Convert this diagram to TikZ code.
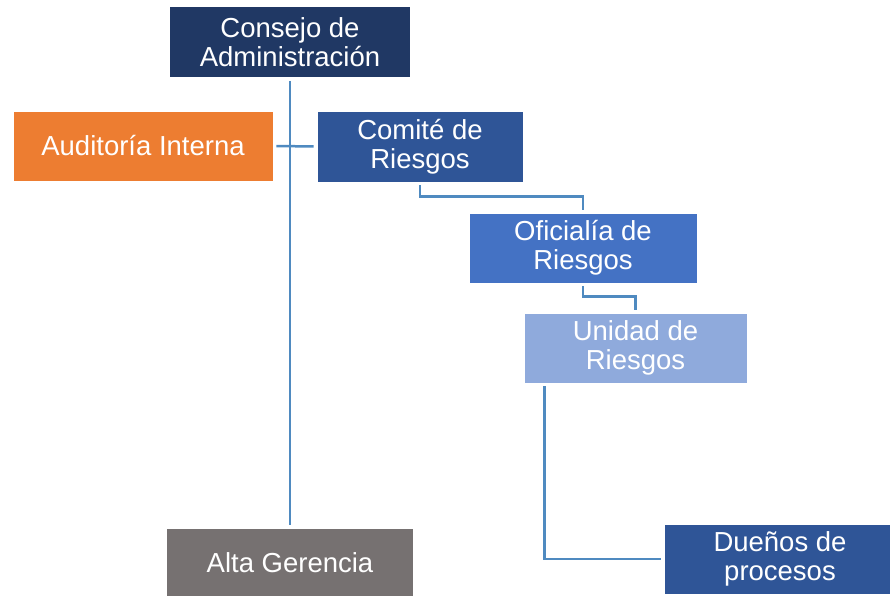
\documentclass[tikz,border=0pt]{standalone}
\usepackage{fontspec}
\setmainfont{Liberation Sans}
\definecolor{cnavy}{HTML}{203864}
\definecolor{cblue}{HTML}{2F5597}
\definecolor{cmid}{HTML}{4472C4}
\definecolor{clight}{HTML}{8FAADC}
\definecolor{cgray}{HTML}{767171}
\definecolor{corange}{HTML}{ED7D31}
\definecolor{cline}{RGB}{79,138,192}
\begin{document}
\begin{tikzpicture}[x=1pt,y=-1pt,
  box/.style={rectangle,draw=white,line width=0.8pt,text=white,align=center,
    inner sep=0pt,font=\fontsize{27.5}{29}\selectfont},
  conn/.style={draw=cline,line width=2.5pt,shorten <=3pt,shorten >=3pt}]
\useasboundingbox (0,0) rectangle (890,596);
\node[box,fill=cnavy,minimum width=241pt,minimum height=71pt] (consejo) at (290,42) {Consejo de\\Administración};
\node[box,fill=corange,minimum width=260pt,minimum height=70pt] (audit) at (143,146) {Auditoría Interna};
\node[box,fill=cblue,minimum width=206pt,minimum height=71pt] (comite) at (420,146.5) {Comité de\\Riesgos};
\node[box,fill=cmid,minimum width=228pt,minimum height=70pt] (oficialia) at (583,248) {Oficialía de\\Riesgos};
\node[box,fill=clight,minimum width=223pt,minimum height=70pt] (unidad) at (635.5,348) {Unidad de\\Riesgos};
\node[box,fill=cgray,minimum width=247pt,minimum height=70pt] (alta) at (290,563) {Alta Gerencia};
\node[box,fill=cblue,minimum width=232pt,minimum height=70pt] (duenos) at (780,559) {Dueños de\\procesos};
\draw[conn] (consejo.south) -- (alta.north);
\draw[conn] (audit.east) -- (comite.west);
\draw[conn] (comite.south) -- ++(0,14) -| (oficialia.north);
\draw[conn] (oficialia.south) -- ++(0,13) -| (unidad.north);
\draw[conn] ([xshift=21pt]unidad.south west) |- (duenos.west);
\end{tikzpicture}
\end{document}
